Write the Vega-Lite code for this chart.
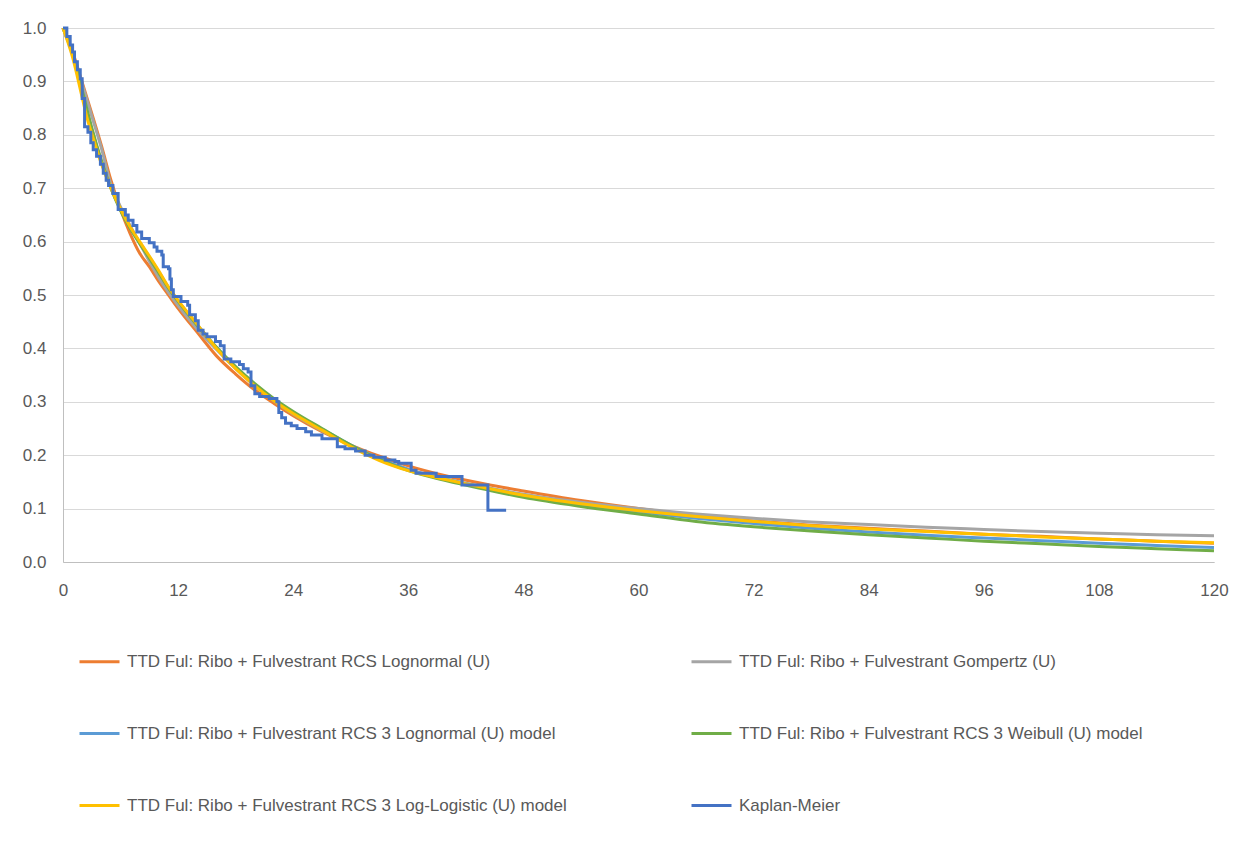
{
  "$schema": "https://vega.github.io/schema/vega-lite/v6.json",
  "width": 1151,
  "height": 534,
  "autosize": {"type": "none"},
  "padding": {"left": 63, "top": 28, "right": 37, "bottom": 290},
  "background": "white",
  "config": {
    "view": {"stroke": null},
    "font": "Liberation Sans",
    "axis": {
      "title": null,
      "ticks": false,
      "tickSize": 0,
      "labelFontSize": 17,
      "labelColor": "#595959",
      "labelFont": "Liberation Sans",
      "domainColor": "#bfbfbf",
      "domainWidth": 1,
      "labelFlush": false,
      "labelOverlap": false
    },
    "legend": {
      "orient": "none",
      "legendX": 15,
      "legendY": 612,
      "columns": 2,
      "direction": "horizontal",
      "title": null,
      "labelFontSize": 17,
      "labelFont": "Liberation Sans",
      "labelColor": "#595959",
      "labelLimit": 800,
      "labelOffset": 6,
      "symbolType": "stroke",
      "symbolSize": 1600,
      "symbolStrokeWidth": 3,
      "rowPadding": 42,
      "columnPadding": 118
    }
  },
  "encoding": {
    "x": {
      "field": "t",
      "type": "quantitative",
      "scale": {"domain": [0, 120], "nice": false, "zero": false},
      "axis": {"values": [0, 12, 24, 36, 48, 60, 72, 84, 96, 108, 120], "grid": false, "labelPadding": 20}
    },
    "y": {
      "field": "v",
      "type": "quantitative",
      "scale": {"domain": [0, 1], "nice": false},
      "axis": {"values": [0, 0.1, 0.2, 0.3, 0.4, 0.5, 0.6, 0.7, 0.8, 0.9, 1.0], "format": ".1f", "grid": true, "gridColor": "#d9d9d9", "gridWidth": 1.2, "labelPadding": 17}
    }
  },
  "layer": [
    {
      "data": {"values": [
        {"t": 0, "v": 1}, {"t": 1, "v": 0.955}, {"t": 2, "v": 0.898}, {"t": 3, "v": 0.84}, {"t": 4, "v": 0.78}, {"t": 5, "v": 0.715}, {"t": 6, "v": 0.66}, {"t": 7, "v": 0.615}, {"t": 8, "v": 0.578}, {"t": 9, "v": 0.553}, {"t": 10, "v": 0.525}, {"t": 11, "v": 0.5}, {"t": 12, "v": 0.475}, {"t": 14, "v": 0.43}, {"t": 16, "v": 0.386}, {"t": 18, "v": 0.352}, {"t": 20, "v": 0.322}, {"t": 22, "v": 0.297}, {"t": 24, "v": 0.274}, {"t": 27, "v": 0.244}, {"t": 30, "v": 0.219}, {"t": 33, "v": 0.198}, {"t": 36, "v": 0.18}, {"t": 40, "v": 0.161}, {"t": 44, "v": 0.146}, {"t": 48, "v": 0.133}, {"t": 54, "v": 0.115}, {"t": 60, "v": 0.1}, {"t": 66, "v": 0.087}, {"t": 72, "v": 0.077}, {"t": 78, "v": 0.069}, {"t": 84, "v": 0.063}, {"t": 90, "v": 0.058}, {"t": 96, "v": 0.052}, {"t": 102, "v": 0.048}, {"t": 108, "v": 0.043}, {"t": 114, "v": 0.039}, {"t": 120, "v": 0.035}
      ]},
      "mark": {"type": "line", "interpolate": "monotone", "strokeWidth": 3},
      "encoding": {
        "color": {
          "datum": "TTD Ful: Ribo + Fulvestrant RCS Lognormal (U)",
          "type": "nominal",
          "scale": {
            "domain": [
              "TTD Ful: Ribo + Fulvestrant RCS Lognormal (U)",
              "TTD Ful: Ribo + Fulvestrant Gompertz (U)",
              "TTD Ful: Ribo + Fulvestrant RCS 3 Lognormal (U) model",
              "TTD Ful: Ribo + Fulvestrant RCS 3 Weibull (U) model",
              "TTD Ful: Ribo + Fulvestrant RCS 3 Log-Logistic (U) model",
              "Kaplan-Meier"
            ],
            "range": ["#ED7D31", "#A5A5A5", "#5B9BD5", "#70AD47", "#FFC000", "#4472C4"]
          }
        }
      }
    },
    {
      "data": {"values": [
        {"t": 0, "v": 1}, {"t": 1, "v": 0.952}, {"t": 2, "v": 0.895}, {"t": 3, "v": 0.835}, {"t": 4, "v": 0.775}, {"t": 5, "v": 0.707}, {"t": 6, "v": 0.665}, {"t": 7, "v": 0.63}, {"t": 8, "v": 0.597}, {"t": 9, "v": 0.563}, {"t": 10, "v": 0.532}, {"t": 11, "v": 0.505}, {"t": 12, "v": 0.48}, {"t": 14, "v": 0.436}, {"t": 16, "v": 0.398}, {"t": 18, "v": 0.362}, {"t": 20, "v": 0.33}, {"t": 22, "v": 0.302}, {"t": 24, "v": 0.277}, {"t": 27, "v": 0.246}, {"t": 30, "v": 0.218}, {"t": 33, "v": 0.194}, {"t": 36, "v": 0.174}, {"t": 40, "v": 0.155}, {"t": 44, "v": 0.14}, {"t": 48, "v": 0.127}, {"t": 54, "v": 0.112}, {"t": 60, "v": 0.1}, {"t": 66, "v": 0.09}, {"t": 72, "v": 0.082}, {"t": 78, "v": 0.075}, {"t": 84, "v": 0.07}, {"t": 90, "v": 0.065}, {"t": 96, "v": 0.061}, {"t": 102, "v": 0.057}, {"t": 108, "v": 0.054}, {"t": 114, "v": 0.051}, {"t": 120, "v": 0.049}
      ]},
      "mark": {"type": "line", "interpolate": "monotone", "strokeWidth": 3},
      "encoding": {"color": {"datum": "TTD Ful: Ribo + Fulvestrant Gompertz (U)", "type": "nominal"}}
    },
    {
      "data": {"values": [
        {"t": 0, "v": 1}, {"t": 1, "v": 0.95}, {"t": 2, "v": 0.88}, {"t": 3, "v": 0.81}, {"t": 4, "v": 0.75}, {"t": 5, "v": 0.7}, {"t": 6, "v": 0.66}, {"t": 7, "v": 0.627}, {"t": 8, "v": 0.598}, {"t": 9, "v": 0.571}, {"t": 10, "v": 0.543}, {"t": 11, "v": 0.514}, {"t": 12, "v": 0.489}, {"t": 14, "v": 0.444}, {"t": 16, "v": 0.402}, {"t": 18, "v": 0.364}, {"t": 20, "v": 0.332}, {"t": 22, "v": 0.304}, {"t": 24, "v": 0.28}, {"t": 27, "v": 0.249}, {"t": 30, "v": 0.219}, {"t": 33, "v": 0.193}, {"t": 36, "v": 0.173}, {"t": 40, "v": 0.155}, {"t": 44, "v": 0.139}, {"t": 48, "v": 0.124}, {"t": 54, "v": 0.107}, {"t": 60, "v": 0.094}, {"t": 66, "v": 0.082}, {"t": 72, "v": 0.072}, {"t": 78, "v": 0.063}, {"t": 84, "v": 0.056}, {"t": 90, "v": 0.05}, {"t": 96, "v": 0.045}, {"t": 102, "v": 0.04}, {"t": 108, "v": 0.035}, {"t": 114, "v": 0.031}, {"t": 120, "v": 0.027}
      ]},
      "mark": {"type": "line", "interpolate": "monotone", "strokeWidth": 3},
      "encoding": {"color": {"datum": "TTD Ful: Ribo + Fulvestrant RCS 3 Lognormal (U) model", "type": "nominal"}}
    },
    {
      "data": {"values": [
        {"t": 0, "v": 1}, {"t": 1, "v": 0.952}, {"t": 2, "v": 0.883}, {"t": 3, "v": 0.813}, {"t": 4, "v": 0.752}, {"t": 5, "v": 0.7}, {"t": 6, "v": 0.658}, {"t": 7, "v": 0.625}, {"t": 8, "v": 0.596}, {"t": 9, "v": 0.569}, {"t": 10, "v": 0.541}, {"t": 11, "v": 0.513}, {"t": 12, "v": 0.488}, {"t": 14, "v": 0.443}, {"t": 16, "v": 0.402}, {"t": 18, "v": 0.366}, {"t": 20, "v": 0.334}, {"t": 22, "v": 0.306}, {"t": 24, "v": 0.282}, {"t": 27, "v": 0.25}, {"t": 30, "v": 0.219}, {"t": 33, "v": 0.192}, {"t": 36, "v": 0.171}, {"t": 40, "v": 0.152}, {"t": 44, "v": 0.136}, {"t": 48, "v": 0.121}, {"t": 54, "v": 0.104}, {"t": 60, "v": 0.09}, {"t": 66, "v": 0.076}, {"t": 72, "v": 0.066}, {"t": 78, "v": 0.058}, {"t": 84, "v": 0.051}, {"t": 90, "v": 0.045}, {"t": 96, "v": 0.039}, {"t": 102, "v": 0.034}, {"t": 108, "v": 0.029}, {"t": 114, "v": 0.025}, {"t": 120, "v": 0.021}
      ]},
      "mark": {"type": "line", "interpolate": "monotone", "strokeWidth": 3},
      "encoding": {"color": {"datum": "TTD Ful: Ribo + Fulvestrant RCS 3 Weibull (U) model", "type": "nominal"}}
    },
    {
      "data": {"values": [
        {"t": 0, "v": 1}, {"t": 1, "v": 0.945}, {"t": 2, "v": 0.87}, {"t": 2.5, "v": 0.832}, {"t": 3, "v": 0.802}, {"t": 4, "v": 0.746}, {"t": 5, "v": 0.7}, {"t": 6, "v": 0.661}, {"t": 7, "v": 0.628}, {"t": 8, "v": 0.6}, {"t": 9, "v": 0.573}, {"t": 10, "v": 0.545}, {"t": 11, "v": 0.515}, {"t": 12, "v": 0.49}, {"t": 14, "v": 0.445}, {"t": 16, "v": 0.4}, {"t": 18, "v": 0.362}, {"t": 20, "v": 0.33}, {"t": 22, "v": 0.302}, {"t": 24, "v": 0.278}, {"t": 27, "v": 0.247}, {"t": 30, "v": 0.216}, {"t": 33, "v": 0.19}, {"t": 36, "v": 0.171}, {"t": 40, "v": 0.154}, {"t": 44, "v": 0.139}, {"t": 48, "v": 0.125}, {"t": 54, "v": 0.109}, {"t": 60, "v": 0.096}, {"t": 66, "v": 0.085}, {"t": 72, "v": 0.076}, {"t": 78, "v": 0.068}, {"t": 84, "v": 0.062}, {"t": 90, "v": 0.057}, {"t": 96, "v": 0.052}, {"t": 102, "v": 0.047}, {"t": 108, "v": 0.043}, {"t": 114, "v": 0.039}, {"t": 120, "v": 0.036}
      ]},
      "mark": {"type": "line", "interpolate": "monotone", "strokeWidth": 3},
      "encoding": {"color": {"datum": "TTD Ful: Ribo + Fulvestrant RCS 3 Log-Logistic (U) model", "type": "nominal"}}
    },
    {
      "data": {"values": [
        {"t": 0, "v": 1}, {"t": 0.4, "v": 0.984}, {"t": 0.75, "v": 0.968}, {"t": 1.0, "v": 0.955}, {"t": 1.2, "v": 0.937}, {"t": 1.5, "v": 0.922}, {"t": 1.8, "v": 0.905}, {"t": 2.0, "v": 0.868}, {"t": 2.25, "v": 0.815}, {"t": 2.6, "v": 0.805}, {"t": 2.9, "v": 0.785}, {"t": 3.15, "v": 0.772}, {"t": 3.5, "v": 0.76}, {"t": 3.9, "v": 0.745}, {"t": 4.2, "v": 0.728}, {"t": 4.5, "v": 0.715}, {"t": 4.75, "v": 0.705}, {"t": 5.2, "v": 0.69}, {"t": 5.75, "v": 0.66}, {"t": 6.5, "v": 0.65}, {"t": 6.8, "v": 0.64}, {"t": 7.3, "v": 0.63}, {"t": 7.7, "v": 0.618}, {"t": 8.2, "v": 0.606}, {"t": 9.0, "v": 0.598}, {"t": 9.5, "v": 0.59}, {"t": 9.8, "v": 0.582}, {"t": 10.3, "v": 0.575}, {"t": 10.45, "v": 0.553}, {"t": 11.0, "v": 0.549}, {"t": 11.15, "v": 0.53}, {"t": 11.3, "v": 0.51}, {"t": 11.5, "v": 0.497}, {"t": 12.3, "v": 0.488}, {"t": 13.0, "v": 0.481}, {"t": 13.2, "v": 0.463}, {"t": 13.8, "v": 0.452}, {"t": 14.1, "v": 0.434}, {"t": 14.6, "v": 0.427}, {"t": 15.0, "v": 0.422}, {"t": 15.9, "v": 0.413}, {"t": 16.4, "v": 0.405}, {"t": 16.8, "v": 0.38}, {"t": 17.5, "v": 0.375}, {"t": 18.4, "v": 0.37}, {"t": 18.8, "v": 0.362}, {"t": 19.3, "v": 0.356}, {"t": 19.6, "v": 0.33}, {"t": 20.0, "v": 0.315}, {"t": 20.5, "v": 0.31}, {"t": 21.5, "v": 0.306}, {"t": 22.3, "v": 0.3}, {"t": 22.5, "v": 0.28}, {"t": 22.8, "v": 0.27}, {"t": 23.2, "v": 0.26}, {"t": 23.8, "v": 0.255}, {"t": 24.4, "v": 0.25}, {"t": 25.3, "v": 0.244}, {"t": 25.9, "v": 0.238}, {"t": 27.0, "v": 0.231}, {"t": 28.6, "v": 0.216}, {"t": 29.4, "v": 0.212}, {"t": 30.5, "v": 0.208}, {"t": 31.5, "v": 0.2}, {"t": 32.4, "v": 0.196}, {"t": 33.6, "v": 0.191}, {"t": 34.6, "v": 0.188}, {"t": 35.0, "v": 0.185}, {"t": 36.3, "v": 0.172}, {"t": 36.8, "v": 0.166}, {"t": 38.9, "v": 0.16}, {"t": 41.6, "v": 0.144}, {"t": 44.3, "v": 0.097}, {"t": 46.2, "v": 0.097}
      ]},
      "mark": {"type": "line", "interpolate": "step-after", "strokeWidth": 3},
      "encoding": {"color": {"datum": "Kaplan-Meier", "type": "nominal"}}
    }
  ]
}
